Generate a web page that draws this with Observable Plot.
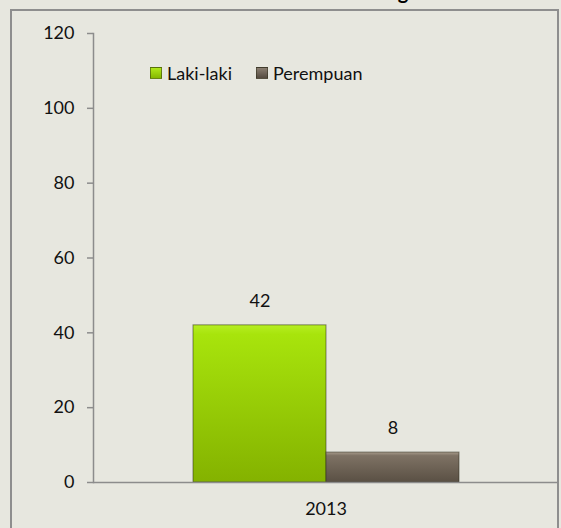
<!DOCTYPE html>
<html><head><meta charset="utf-8">
<script src="https://cdn.jsdelivr.net/npm/d3@7"></script>
<script src="https://cdn.jsdelivr.net/npm/@observablehq/plot@0.6"></script>
<style>
html,body{margin:0;padding:0;background:#e7e7df;}
#wrap{position:relative;width:561px;height:528px;overflow:hidden;background:#e7e7df;font-family:Lato,"Open Sans",sans-serif;color:#111;}
#frame{position:absolute;left:10px;top:9px;width:545px;height:560px;border:2px solid #8e8e8e;border-bottom:none;}
#title{position:absolute;left:0;width:561px;top:-19px;text-align:center;font-weight:bold;font-size:20px;line-height:20px;color:#000;white-space:nowrap;}
#chart{position:absolute;left:0;top:0;}
#legend{position:absolute;left:150px;top:64px;display:flex;align-items:center;font-size:18px;line-height:18px;}
.sw{display:inline-block;width:12px;height:12px;margin-right:5px;box-sizing:border-box;}
.item{display:flex;align-items:center;margin-right:24px;}
</style></head><body>
<div id="wrap">
  <div id="title">Jumlah Camat Menurut Golongan</div>
  <div id="frame"></div>
  <div id="chart"></div>
  <div id="legend"></div>
</div>
<script>
const years = ["2013"];
const series = ["Laki-laki", "Perempuan"];
const values = [42, 8];
const yTicks = [0, 20, 40, 60, 80, 100, 120];

const gradIds = ["gradLaki", "gradPerem"];
const gradStops = [
  [["0", "#b6ee22"], ["0.06", "#a8e40c"], ["1", "#84b200"]],
  [["0", "#a89c8c"], ["0.12", "#7e7264"], ["1", "#5a5044"]]
];
const swatchCss = [
  "linear-gradient(#b0e81a,#86b800)",
  "linear-gradient(#8a7e70,#554b40)"
];

const data = series.map((s, i) => ({year: years[0], series: s, value: values[i]}));

const svg = Plot.plot({
  width: 561,
  height: 528,
  marginLeft: 93,
  marginRight: 3,
  marginTop: 33,
  marginBottom: 46,
  style: {background: "transparent", fontFamily: "Lato, 'Open Sans', sans-serif", fontSize: "18px", color: "#111", overflow: "visible"},
  fx: {domain: years, padding: 0, label: null},
  x: {domain: series, paddingInner: 0, paddingOuter: 0.742, axis: null},
  y: {domain: [0, 120], label: null},
  color: {domain: series, range: gradIds.map(id => `url(#${id})`)},
  marks: [
    Plot.frame({anchor: "left", stroke: "#8c8c8c", strokeWidth: 1.5}),
    Plot.axisY({ticks: yTicks, tickSize: 6, tickPadding: 13, stroke: "#8c8c8c", strokeWidth: 1.5, label: null, fill: "#111"}),
    Plot.barY(data, {fx: "year", x: "series", y: "value", fill: "series", stroke: "#2e2e1e", strokeOpacity: 0.55, strokeWidth: 1}),
    Plot.ruleY([0], {stroke: "#8c8c8c", strokeWidth: 1.5}),
    Plot.text(data, {fx: "year", x: "series", y: "value", text: d => String(d.value), dy: -24, fill: "#111"}),
    Plot.axisFx({anchor: "bottom", tickSize: 0, tickPadding: 20, label: null, fill: "#111"})
  ]
});

const defs = d3.select(svg).insert("defs", ":first-child");
gradIds.forEach((id, i) => {
  const g = defs.append("linearGradient").attr("id", id).attr("x1", 0).attr("y1", 0).attr("x2", 0).attr("y2", 1);
  gradStops[i].forEach(([o, c]) => g.append("stop").attr("offset", o).attr("stop-color", c));
});

document.getElementById("chart").appendChild(svg);

const legend = d3.select("#legend");
series.forEach((s, i) => {
  const it = legend.append("div").attr("class", "item");
  it.append("span").attr("class", "sw").style("background", swatchCss[i]).style("border", "1px solid rgba(40,40,20,0.5)");
  it.append("span").text(s);
});
</script>
</body></html>
